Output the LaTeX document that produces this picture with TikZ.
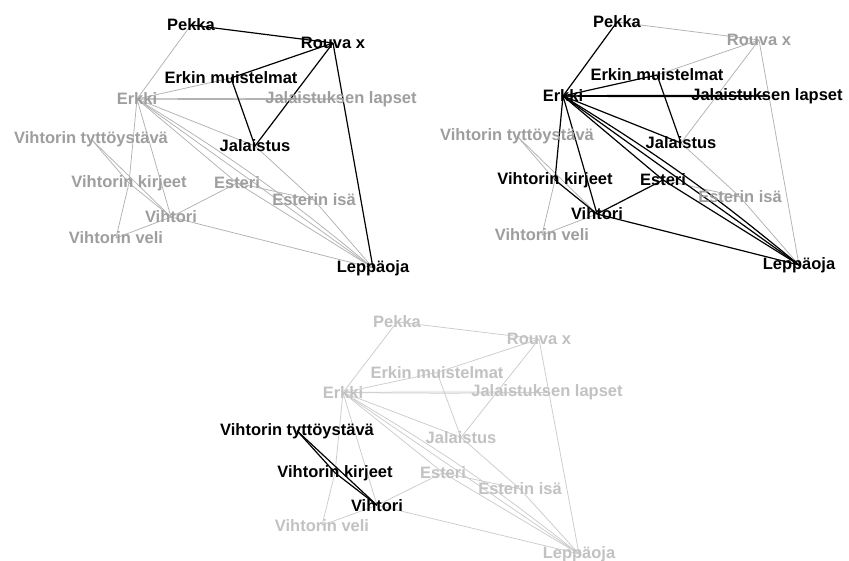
\documentclass[tikz,border=0pt]{standalone}
\usepackage{fontspec}
\setmainfont{Liberation Sans}
\pgfdeclarelayer{bg}
\pgfdeclarelayer{mid}
\pgfsetlayers{bg,mid,main}
\definecolor{lotextA}{gray}{0.62}
\definecolor{lolineA}{gray}{0.70}
\definecolor{lotextC}{gray}{0.76}
\definecolor{lolineC}{gray}{0.80}
\tikzset{
  labelfont/.style={font=\bfseries\fontsize{16.5}{18}\selectfont, inner sep=0pt},
  hinode/.style={labelfont, text=black},
  lonode/.style={labelfont, text=lotextA},
  hiedge/.style={draw=black, line width=1.2pt},
  loedge/.style={draw=lolineA, line width=0.75pt},
}
\newcommand\allnames{pekka,rouva,erkinm,erkki,jlapset,vt,jal,vk,esteri,eisa,vihtori,vv,lepp}
\newcommand\setflags[1]{%
  \foreach \n in \allnames {\expandafter\xdef\csname flag\n\endcsname{0}}%
  \foreach \n in {#1} {\expandafter\xdef\csname flag\n\endcsname{1}}}
\newcommand\Vaux[5]{\node[#1] (#2) at (#3,#4) {#5};}
\newcommand\V[4]{%
  \ifnum\csname flag#1\endcsname=1 \def\vst{hinode}\else\def\vst{lonode}\fi
  \expandafter\Vaux\expandafter{\vst}{#1}{#2}{#3}{#4}}
\newcommand\E[3][]{%
  \ifnum\numexpr\csname flag#2\endcsname*\csname flag#3\endcsname\relax=1
    \begin{pgfonlayer}{mid}\draw[hiedge,#1] (#2.center) to (#3.center);\end{pgfonlayer}%
  \else
    \begin{pgfonlayer}{bg}\draw[loedge,#1] (#2.center) to (#3.center);\end{pgfonlayer}%
  \fi}
\newcommand\netpanel{%
  \V{pekka}{191}{25}{Pekka}
  \V{rouva}{333}{43}{Rouva x}
  \V{erkinm}{231}{78}{Erkin muistelmat}
  \V{erkki}{137}{99}{Erkki}
  \V{jlapset}{341}{99}{Jalaistuksen lapset}
  \V{vt}{91}{139}{Vihtorin tyttöystävä}
  \V{jal}{255}{146}{Jalaistus}
  \V{vk}{129}{183}{Vihtorin kirjeet}
  \V{esteri}{237}{183}{Esteri}
  \V{eisa}{314}{200}{Esterin isä}
  \V{vihtori}{171}{217}{Vihtori}
  \V{vv}{116}{238}{Vihtorin veli}
  \V{lepp}{373}{268}{Leppäoja}
  \E{pekka}{rouva}
  \E{pekka}{erkki}
  \E{rouva}{erkinm}
  \E{rouva}{jal}
  \E{rouva}{lepp}
  \E{erkinm}{jal}
  \E{erkki}{erkinm}
  \E[bend left=0.6]{erkki}{jlapset}
  \E[bend right=0.6]{erkki}{jlapset}
  \E{erkki}{jal}
  \E{erkki}{esteri}
  \E{erkki}{lepp}
  \E[bend left=4]{erkki}{lepp}
  \E{erkki}{vihtori}
  \E{erkki}{vk}
  \E{vk}{vv}
  \E{vt}{vk}
  \E{vk}{vihtori}
  \E{vt}{vihtori}
  \E{vihtori}{esteri}
  \E{vihtori}{vv}
  \E{vihtori}{lepp}
  \E{esteri}{lepp}
  \E{esteri}{eisa}
  \E{jal}{eisa}
  \E{eisa}{lepp}
}
\begin{document}
\begin{tikzpicture}[x=1pt,y=-1pt]
  \begin{pgfonlayer}{bg}
    \fill[white] (0,0) rectangle (849,561);
  \end{pgfonlayer}
  \useasboundingbox (0,0) rectangle (849,561);
  \begin{scope}[name prefix=a-]
    \setflags{rouva,pekka,erkinm,jal,lepp}
    \netpanel
  \end{scope}
  \begin{scope}[name prefix=b-, shift={(426,-3)}]
    \setflags{erkki,pekka,erkinm,jlapset,jal,esteri,lepp,vihtori,vk}
    \netpanel
  \end{scope}
  \begin{scope}[name prefix=c-, shift={(206,298)}, yscale=0.955,
      lonode/.style={labelfont, text=lotextC},
      loedge/.style={draw=lolineC, line width=0.75pt}]
    \setflags{vt,vk,vihtori}
    \netpanel
  \end{scope}
\end{tikzpicture}
\end{document}
